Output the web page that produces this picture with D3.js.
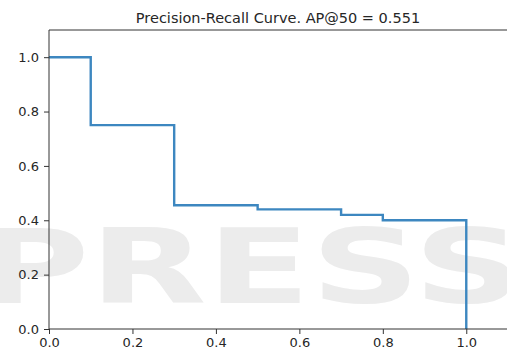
<!DOCTYPE html>
<html>
<head>
    <title>Precision-Recall Curve</title>
    <style>
        body { margin: 0; background: #fff; }
        svg text { font-family: "DejaVu Sans", sans-serif; fill: #262626; }
        .axis path, .axis line { stroke: #333; }
        .axis text { font-size: 13px; }
        .title { font-size: 14.5px; }
    </style>
</head>
<body>
    <svg id="chart" width="507" height="361"></svg>

    <script src="https://d3js.org/d3.v7.min.js"></script>
    <script>
        // step points of the curve (recall, precision)
        const recall = [0, 0.1, 0.1, 0.3, 0.3, 0.5, 0.5, 0.7, 0.7, 0.8, 0.8, 1.0, 1.0];
        const precision = [1.0, 1.0, 0.75, 0.75, 0.455, 0.455, 0.44, 0.44, 0.42, 0.42, 0.40, 0.40, 0.0];
        const xTicks = [0, 0.2, 0.4, 0.6, 0.8, 1.0];
        const yTicks = [0, 0.2, 0.4, 0.6, 0.8, 1.0];

        const svg = d3.select('#chart'),
            margin = { top: 30, right: -1, bottom: 32, left: 49 },
            width = +svg.attr('width') - margin.left - margin.right,
            height = +svg.attr('height') - margin.top - margin.bottom;

        // faint watermark behind the plot
        svg.append('text')
            .attr('x', -22).attr('y', 303)
            .attr('textLength', 545)
            .attr('lengthAdjust', 'spacingAndGlyphs')
            .style('font-size', '104px')
            .style('font-weight', 'bold')
            .style('fill', '#ececec')
            .text('PRESS');

        const x = d3.scaleLinear().domain([0, 1.1]).range([0, width]);
        const y = d3.scaleLinear().domain([0, 1.1]).range([height, 0]);

        const g = svg.append('g')
            .attr('transform', `translate(${margin.left},${margin.top})`);

        const pts = recall.map((r, i) => [r, precision[i]]);

        g.append('path')
            .datum(pts)
            .attr('fill', 'none')
            .attr('stroke', '#3d87c0')
            .attr('stroke-width', 2.4)
            .attr('d', d3.line().x(d => x(d[0])).y(d => y(d[1])));

        // spines: left, bottom, top
        g.append('line').attr('x1', 0).attr('x2', width).attr('y1', 0).attr('y2', 0)
            .attr('stroke', '#333');

        g.append('g')
            .attr('class', 'axis')
            .attr('transform', `translate(0,${height})`)
            .call(d3.axisBottom(x).tickValues(xTicks).tickFormat(d3.format('.1f')).tickSize(5).tickPadding(4))
            .call(a => a.select('.domain').attr('d', `M0,0H${width}`));

        g.append('g')
            .attr('class', 'axis')
            .call(d3.axisLeft(y).tickValues(yTicks).tickFormat(d3.format('.1f')).tickSize(5).tickPadding(5))
            .call(a => a.select('.domain').attr('d', `M0,0V${height}`));

        svg.append('text')
            .attr('class', 'title')
            .attr('x', 278).attr('y', 23)
            .attr('text-anchor', 'middle')
            .text('Precision-Recall Curve. AP@50 = 0.551');
    </script>
</body>
</html>
